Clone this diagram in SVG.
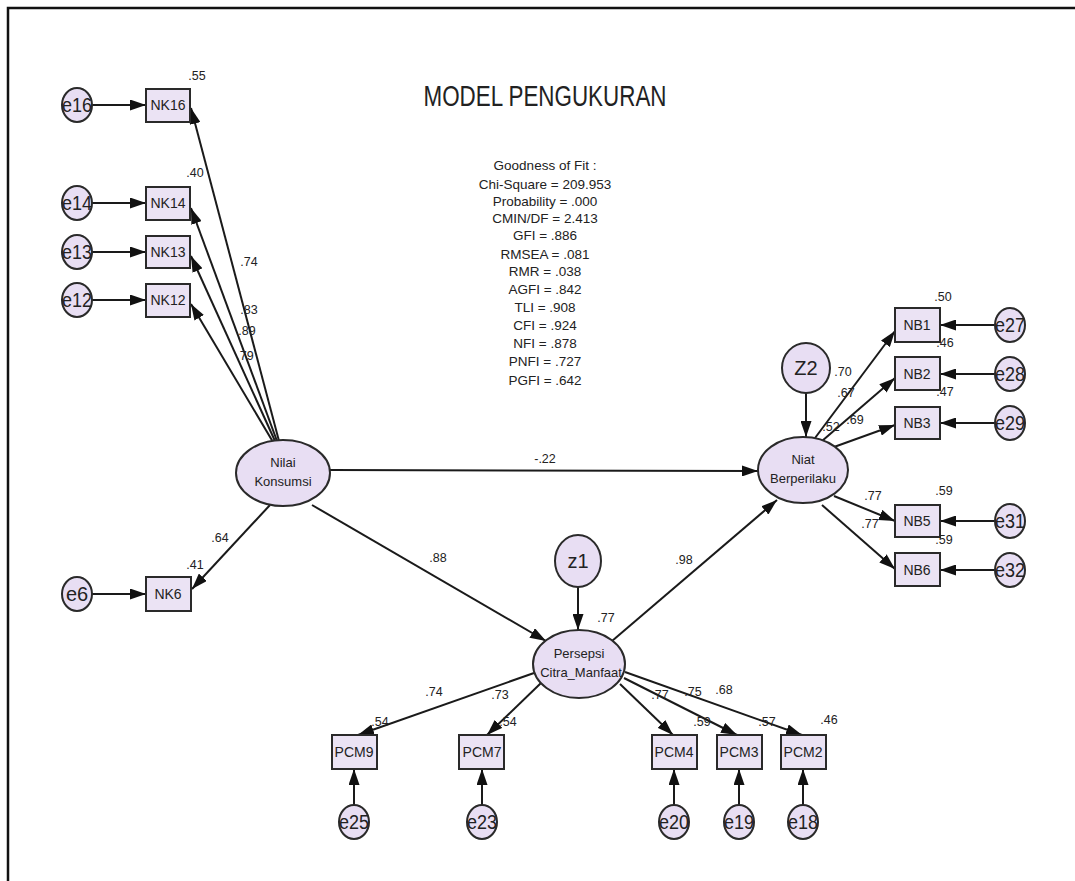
<svg xmlns="http://www.w3.org/2000/svg" width="1075" height="881" viewBox="0 0 1075 881">
<style>
text{font-family:"Liberation Sans",Arial,sans-serif;fill:#222}
.lat{fill:#e8def3;stroke:#2a2a2a;stroke-width:2}
.obs{fill:#ebe3f4;stroke:#2a2a2a;stroke-width:2}
.err{fill:#e8def3;stroke:#2a2a2a;stroke-width:2}
.nl{font-size:13px;text-anchor:middle}
.bl{font-size:14px;text-anchor:middle}
.el{font-size:20px;text-anchor:middle}
.lb{font-size:12.5px;text-anchor:middle}
.gof{font-size:13.5px;text-anchor:middle}
.c line{stroke:#1a1a1a;stroke-width:2;marker-end:url(#ah)}
</style>
<defs>
<marker id="ah" viewBox="0 0 16 11" refX="16" refY="5.5" markerWidth="16" markerHeight="11" orient="auto" markerUnits="userSpaceOnUse"><path d="M0,0 L16,5.5 L0,11 z" fill="#111"/></marker>
</defs>
<rect width="1075" height="881" fill="#fff"/>
<path d="M8,881 V8 H1075" fill="none" stroke="#111" stroke-width="2.5"/>

<text transform="translate(545,106) scale(1,1.3)" font-size="22.5" text-anchor="middle" textLength="243" lengthAdjust="spacingAndGlyphs">MODEL PENGUKURAN</text>
<g id="gof" class="gof">
<text x="545" y="170">Goodness of Fit :</text>
<text x="545" y="189">Chi-Square = 209.953</text>
<text x="545" y="206">Probability = .000</text>
<text x="545" y="223">CMIN/DF = 2.413</text>
<text x="545" y="240">GFI = .886</text>
<text x="545" y="259">RMSEA = .081</text>
<text x="545" y="276">RMR = .038</text>
<text x="545" y="294">AGFI = .842</text>
<text x="545" y="312">TLI = .908</text>
<text x="545" y="330">CFI = .924</text>
<text x="545" y="348">NFI = .878</text>
<text x="545" y="366">PNFI = .727</text>
<text x="545" y="385">PGFI = .642</text>
</g>

<g id="connectors" class="c">
<line x1="92" y1="105" x2="146" y2="105"/>
<line x1="92" y1="203" x2="146" y2="203"/>
<line x1="92" y1="252" x2="146" y2="252"/>
<line x1="92" y1="300" x2="146" y2="300"/>
<line x1="92" y1="594" x2="146" y2="594"/>
<line x1="279" y1="441" x2="191" y2="108"/>
<line x1="277" y1="441" x2="191" y2="208"/>
<line x1="275" y1="441" x2="191" y2="256"/>
<line x1="273" y1="442" x2="191" y2="304"/>
<line x1="270" y1="505" x2="192" y2="589"/>
<line x1="330" y1="470" x2="758" y2="471"/>
<line x1="312" y1="505" x2="546" y2="641"/>
<line x1="612" y1="641" x2="777" y2="500"/>
<line x1="578" y1="587" x2="578" y2="630"/>
<line x1="806" y1="393" x2="806" y2="437"/>
<line x1="815" y1="438" x2="895" y2="331"/>
<line x1="822" y1="441" x2="895" y2="378"/>
<line x1="834" y1="447" x2="895" y2="425"/>
<line x1="834" y1="496" x2="895" y2="521"/>
<line x1="822" y1="505" x2="895" y2="569"/>
<line x1="995" y1="325" x2="940" y2="325"/>
<line x1="995" y1="374" x2="940" y2="374"/>
<line x1="995" y1="423" x2="940" y2="423"/>
<line x1="995" y1="521" x2="940" y2="521"/>
<line x1="995" y1="570" x2="940" y2="570"/>
<line x1="534" y1="673" x2="358" y2="735"/>
<line x1="541" y1="683" x2="487" y2="735"/>
<line x1="620" y1="684" x2="673" y2="735"/>
<line x1="624" y1="678" x2="737" y2="735"/>
<line x1="625" y1="672" x2="802" y2="735"/>
<line x1="354" y1="805" x2="354" y2="769"/>
<line x1="482" y1="805" x2="482" y2="769"/>
<line x1="674" y1="805" x2="674" y2="769"/>
<line x1="739" y1="805" x2="739" y2="769"/>
<line x1="803" y1="805" x2="803" y2="769"/>
</g>

<g id="NilaiKonsumsi"><ellipse class="lat" cx="283" cy="473" rx="47" ry="33"/><text class="nl" x="283" y="467">Nilai</text><text class="nl" x="283" y="486">Konsumsi</text></g>
<g id="NiatBerperilaku"><ellipse class="lat" cx="803" cy="470" rx="45" ry="33"/><text class="nl" x="803" y="464">Niat</text><text class="nl" x="803" y="483">Berperilaku</text></g>
<g id="Persepsi"><ellipse class="lat" cx="579" cy="664" rx="46" ry="34"/><text class="nl" x="579" y="658">Persepsi</text><text class="nl" x="581" y="677">Citra_Manfaat</text></g>
<g id="z1"><ellipse class="err" cx="578" cy="561" rx="23" ry="26"/><text class="el" x="578" y="568">z1</text></g>
<g id="Z2"><ellipse class="err" cx="806" cy="368" rx="24" ry="25"/><text class="el" x="806" y="375">Z2</text></g>

<g id="NK16"><rect class="obs" x="146" y="89" width="44" height="33"/><text class="bl" x="168" y="110">NK16</text></g>
<g id="NK14"><rect class="obs" x="146" y="187" width="44" height="33"/><text class="bl" x="168" y="208">NK14</text></g>
<g id="NK13"><rect class="obs" x="146" y="236" width="44" height="32"/><text class="bl" x="168" y="257">NK13</text></g>
<g id="NK12"><rect class="obs" x="146" y="284" width="44" height="33"/><text class="bl" x="168" y="305">NK12</text></g>
<g id="NK6"><rect class="obs" x="146" y="577" width="45" height="34"/><text class="bl" x="168" y="599">NK6</text></g>

<g id="e16"><ellipse class="err" cx="77" cy="105" rx="15" ry="17"/><text class="el" x="77" y="112" textLength="30" lengthAdjust="spacingAndGlyphs">e16</text></g>
<g id="e14"><ellipse class="err" cx="77" cy="203" rx="15" ry="17"/><text class="el" x="77" y="210" textLength="30" lengthAdjust="spacingAndGlyphs">e14</text></g>
<g id="e13"><ellipse class="err" cx="77" cy="252" rx="15" ry="17"/><text class="el" x="77" y="259" textLength="30" lengthAdjust="spacingAndGlyphs">e13</text></g>
<g id="e12"><ellipse class="err" cx="77" cy="300" rx="15" ry="17"/><text class="el" x="77" y="307" textLength="30" lengthAdjust="spacingAndGlyphs">e12</text></g>
<g id="e6"><ellipse class="err" cx="77" cy="594" rx="15" ry="17"/><text class="el" x="77" y="601">e6</text></g>

<g id="NB1"><rect class="obs" x="895" y="308" width="45" height="34"/><text class="bl" x="917" y="330">NB1</text></g>
<g id="NB2"><rect class="obs" x="895" y="357" width="45" height="33"/><text class="bl" x="917" y="379">NB2</text></g>
<g id="NB3"><rect class="obs" x="895" y="407" width="45" height="32"/><text class="bl" x="917" y="428">NB3</text></g>
<g id="NB5"><rect class="obs" x="895" y="505" width="45" height="32"/><text class="bl" x="917" y="526">NB5</text></g>
<g id="NB6"><rect class="obs" x="895" y="553" width="45" height="33"/><text class="bl" x="917" y="575">NB6</text></g>

<g id="e27"><ellipse class="err" cx="1010" cy="325" rx="15" ry="17"/><text class="el" x="1010" y="332" textLength="30" lengthAdjust="spacingAndGlyphs">e27</text></g>
<g id="e28"><ellipse class="err" cx="1010" cy="374" rx="15" ry="17"/><text class="el" x="1010" y="381" textLength="30" lengthAdjust="spacingAndGlyphs">e28</text></g>
<g id="e29"><ellipse class="err" cx="1010" cy="423" rx="15" ry="17"/><text class="el" x="1010" y="430" textLength="30" lengthAdjust="spacingAndGlyphs">e29</text></g>
<g id="e31"><ellipse class="err" cx="1010" cy="521" rx="15" ry="17"/><text class="el" x="1010" y="528" textLength="30" lengthAdjust="spacingAndGlyphs">e31</text></g>
<g id="e32"><ellipse class="err" cx="1010" cy="570" rx="15" ry="17"/><text class="el" x="1010" y="577" textLength="30" lengthAdjust="spacingAndGlyphs">e32</text></g>

<g id="PCM9"><rect class="obs" x="332" y="735" width="45" height="34"/><text class="bl" x="354" y="757">PCM9</text></g>
<g id="PCM7"><rect class="obs" x="459" y="735" width="45" height="34"/><text class="bl" x="482" y="757">PCM7</text></g>
<g id="PCM4"><rect class="obs" x="652" y="735" width="45" height="34"/><text class="bl" x="674" y="757">PCM4</text></g>
<g id="PCM3"><rect class="obs" x="717" y="735" width="45" height="34"/><text class="bl" x="739" y="757">PCM3</text></g>
<g id="PCM2"><rect class="obs" x="781" y="735" width="45" height="34"/><text class="bl" x="803" y="757">PCM2</text></g>

<g id="e25"><ellipse class="err" cx="354" cy="822" rx="15" ry="17"/><text class="el" x="354" y="829" textLength="30" lengthAdjust="spacingAndGlyphs">e25</text></g>
<g id="e23"><ellipse class="err" cx="482" cy="822" rx="15" ry="17"/><text class="el" x="482" y="829" textLength="30" lengthAdjust="spacingAndGlyphs">e23</text></g>
<g id="e20"><ellipse class="err" cx="674" cy="822" rx="15" ry="17"/><text class="el" x="674" y="829" textLength="30" lengthAdjust="spacingAndGlyphs">e20</text></g>
<g id="e19"><ellipse class="err" cx="739" cy="822" rx="15" ry="17"/><text class="el" x="739" y="829" textLength="30" lengthAdjust="spacingAndGlyphs">e19</text></g>
<g id="e18"><ellipse class="err" cx="803" cy="822" rx="15" ry="17"/><text class="el" x="803" y="829" textLength="30" lengthAdjust="spacingAndGlyphs">e18</text></g>

<g id="labels" class="lb">
<text x="197" y="80">.55</text>
<text x="195" y="177">.40</text>
<text x="249" y="266">.74</text>
<text x="249" y="314">.83</text>
<text x="247" y="335">.89</text>
<text x="245" y="360">.79</text>
<text x="220" y="542">.64</text>
<text x="195" y="569">.41</text>
<text x="545" y="463">-.22</text>
<text x="438" y="562">.88</text>
<text x="684" y="564">.98</text>
<text x="606" y="622">.77</text>
<text x="843" y="376">.70</text>
<text x="846" y="397">.67</text>
<text x="831" y="431">.52</text>
<text x="855" y="424">.69</text>
<text x="943" y="301">.50</text>
<text x="945" y="347">.46</text>
<text x="945" y="396">.47</text>
<text x="873" y="500">.77</text>
<text x="944" y="495">.59</text>
<text x="870" y="528">.77</text>
<text x="944" y="544">.59</text>
<text x="434" y="696">.74</text>
<text x="500" y="699">.73</text>
<text x="380" y="726">.54</text>
<text x="508" y="726">.54</text>
<text x="660" y="699">.77</text>
<text x="693" y="696">.75</text>
<text x="724" y="694">.68</text>
<text x="702" y="726">.59</text>
<text x="767" y="726">.57</text>
<text x="829" y="724">.46</text>
</g>
</svg>
